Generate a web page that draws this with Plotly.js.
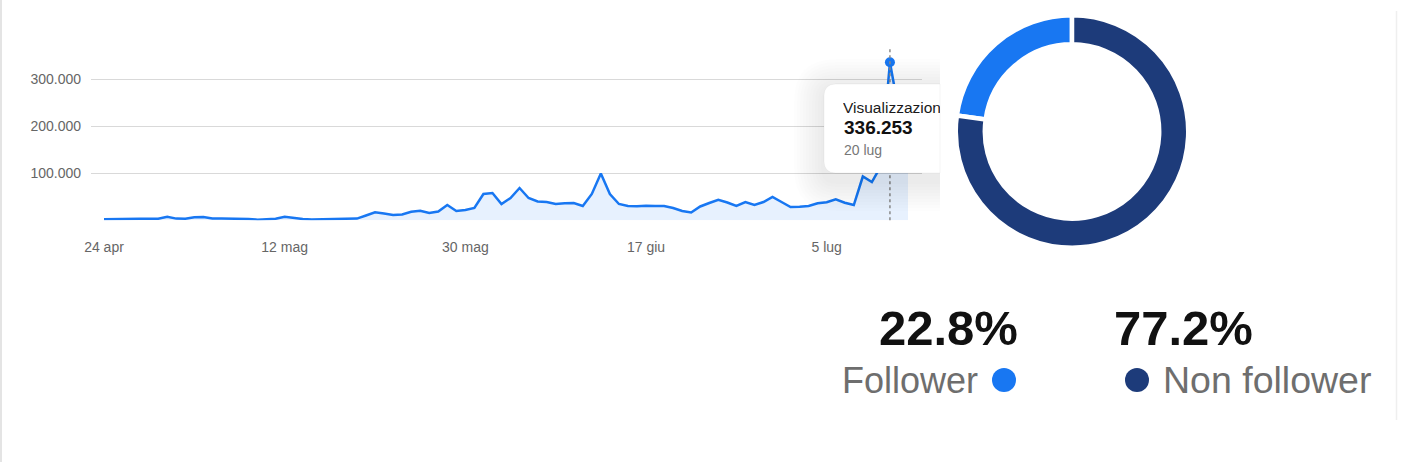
<!DOCTYPE html>
<html>
<head>
<meta charset="utf-8">
<script src="https://cdn.plot.ly/plotly-3.0.1.min.js"></script>
<style>
  html, body { margin: 0; padding: 0; background: #ffffff; }
  #chart { width: 1418px; height: 462px; }
</style>
</head>
<body>
<div id="chart"></div>
<script>
// ---- data ----
const views = [2100, 2000, 2300, 2700, 3200, 3400, 3100, 7600, 3600, 3300,
  6600, 7000, 4000, 3600, 3400, 3500, 3000, 1400, 2700, 3300,
  7700, 4500, 2800, 1500, 2100, 2400, 3400, 3000, 3600, 10200,
  17000, 14300, 11300, 12300, 18300, 20200, 15500, 18700, 32500, 19800,
  21900, 26200, 56000, 58100, 34700, 47400, 68700, 47400, 40000, 38900,
  34700, 36200, 36800, 30400, 56000, 99800, 56000, 34700, 30400, 29800,
  31000, 30400, 30400, 26200, 19800, 16600, 29400, 36800, 43600, 37900,
  30400, 38900, 32500, 38900, 49600, 38900, 28300, 29000, 30400, 36200,
  38300, 44700, 37400, 32500, 93200, 81500, 115500, 336253, 230000, 140000];
const dayIndex = views.map((v, i) => i);
const xTickVals = [0, 20, 40, 60, 80];
const xTickText = ['24 apr', '12 mag', '30 mag', '17 giu', '5 lug'];
const yTickVals = [100000, 200000, 300000];
const tooltipTitle = 'Visualizzazioni';
const tooltipDate = '20 lug';
const audienceLabels = ['Follower', 'Non follower'];
const audienceShare = [22.8, 77.2];
const audienceColors = ['#1877F2', '#1D3B7A'];

// ---- helpers (pixel -> paper) ----
const W = 1418, H = 462;
const px = x => x / W;
const py = y => 1 - y / H;

const peakIdx = views.indexOf(Math.max(...views));
const peakVal = views[peakIdx];
const fmt = v => v.toString().replace(/\B(?=(\d{3})+(?!\d))/g, '.');
const shareTotal = audienceShare.reduce((a, b) => a + b, 0);

// plot area (pixels)
const plotL = 91, plotR = 922, plotT = 46, plotB = 220.3;

const traces = [
  {
    type: 'scatter', mode: 'lines', x: dayIndex, y: views,
    line: { color: '#1877F2', width: 2.5, shape: 'linear' },
    fill: 'tozeroy', fillcolor: 'rgba(24,119,242,0.10)',
    hoverinfo: 'skip', showlegend: false, xaxis: 'x', yaxis: 'y'
  },
  {
    type: 'scatter', mode: 'markers', x: [peakIdx], y: [peakVal],
    marker: { color: '#1877F2', size: 10 },
    hoverinfo: 'skip', showlegend: false, xaxis: 'x', yaxis: 'y'
  },
  {
    type: 'pie', labels: audienceLabels, values: audienceShare,
    marker: { colors: audienceColors, line: { color: '#ffffff', width: 4.5 } },
    hole: 0.75, sort: false, direction: 'clockwise',
    rotation: -360 * audienceShare[0] / shareTotal,
    textinfo: 'none', hoverinfo: 'skip', showlegend: false,
    domain: { x: [px(955.75), px(1188.25)], y: [py(247.75), py(15.25)] }
  }
];

// tooltip rounded box path (paper coords)
function boxPath(L, T, R, B, r) {
  const P = (x, y) => px(x) + ',' + py(y);
  return 'M' + P(L + r, T) + ' L' + P(R, T) + ' L' + P(R, B) + ' L' + P(L + r, B) +
    ' Q' + P(L, B) + ' ' + P(L, B - r) + ' L' + P(L, T + r) +
    ' Q' + P(L, T) + ' ' + P(L + r, T) + ' Z';
}

const shapes = [];
// left border of screenshot
shapes.push({ type: 'line', xref: 'paper', yref: 'paper', x0: px(1), x1: px(1), y0: 0, y1: 1,
  line: { color: '#e4e4e4', width: 2 }, layer: 'above' });
// right panel border
shapes.push({ type: 'line', xref: 'paper', yref: 'paper', x0: px(1396.5), x1: px(1396.5), y0: py(420), y1: py(11),
  line: { color: '#efefef', width: 1.5 }, layer: 'above' });
// dotted hover line
shapes.push({ type: 'line', xref: 'x', yref: 'paper', x0: peakIdx, x1: peakIdx, y0: py(plotB), y1: py(47),
  line: { color: '#8a8a8a', width: 1.5, dash: 'dot' }, layer: 'above' });
// tooltip shadow
for (let k = 1; k <= 10; k++) {
  const e = k * 3;
  shapes.push({ type: 'path', xref: 'paper', yref: 'paper',
    path: boxPath(824 - e, 84 - e + 5, 940, 173 + e + 8, 12 + e),
    fillcolor: 'rgba(0,0,0,0.009)', line: { width: 0 }, layer: 'above' });
}
// tooltip box
shapes.push({ type: 'path', xref: 'paper', yref: 'paper',
  path: boxPath(824, 84, 940, 173, 12),
  fillcolor: '#ffffff', line: { color: 'rgba(0,0,0,0.04)', width: 1 }, layer: 'above' });
// legend dots
shapes.push({ type: 'circle', xref: 'paper', yref: 'paper',
  x0: px(992), x1: px(1016), y0: py(392), y1: py(368),
  fillcolor: audienceColors[0], line: { width: 0 } });
shapes.push({ type: 'circle', xref: 'paper', yref: 'paper',
  x0: px(1125), x1: px(1149), y0: py(392), y1: py(368),
  fillcolor: audienceColors[1], line: { width: 0 } });

const sysFont = '"Liberation Sans", Arial, Helvetica, sans-serif';
const annotations = [
  { xref: 'paper', yref: 'paper', x: px(842), y: py(107), xanchor: 'left', yanchor: 'middle',
    text: tooltipTitle, showarrow: false, width: 97, align: 'left', borderpad: 0,
    font: { family: sysFont, size: 15.5, color: '#1a1a1a' } },
  { xref: 'paper', yref: 'paper', x: px(842), y: py(128), xanchor: 'left', yanchor: 'middle',
    text: '<b>' + fmt(peakVal) + '</b>', showarrow: false, align: 'left',
    font: { family: sysFont, size: 19, color: '#111111' } },
  { xref: 'paper', yref: 'paper', x: px(842), y: py(150), xanchor: 'left', yanchor: 'middle',
    text: tooltipDate, showarrow: false, align: 'left',
    font: { family: sysFont, size: 14, color: '#777777' } },
  { xref: 'paper', yref: 'paper', x: px(949), y: py(328), xanchor: 'center', yanchor: 'middle',
    text: '<b>' + audienceShare[0].toFixed(1) + '%</b>', showarrow: false,
    font: { family: sysFont, size: 49, color: '#111111' } },
  { xref: 'paper', yref: 'paper', x: px(1183), y: py(328), xanchor: 'center', yanchor: 'middle',
    text: '<b>' + audienceShare[1].toFixed(1) + '%</b>', showarrow: false,
    font: { family: sysFont, size: 49, color: '#111111' } },
  { xref: 'paper', yref: 'paper', x: px(980), y: py(380), xanchor: 'right', yanchor: 'middle',
    text: audienceLabels[0], showarrow: false,
    font: { family: sysFont, size: 36, color: '#6e6e6e' } },
  { xref: 'paper', yref: 'paper', x: px(1161), y: py(380), xanchor: 'left', yanchor: 'middle',
    text: audienceLabels[1], showarrow: false,
    font: { family: sysFont, size: 37.5, color: '#6e6e6e' } }
];

const idxPerPx = (views.length - 1) / (908 - 104);
const layout = {
  width: W, height: H, autosize: false,
  margin: { l: 0, r: 0, t: 0, b: 0, pad: 0 },
  paper_bgcolor: '#ffffff', plot_bgcolor: 'rgba(0,0,0,0)',
  separators: ',.',
  hovermode: false,
  showlegend: false,
  font: { family: sysFont, color: '#666666' },
  xaxis: {
    domain: [px(plotL), px(plotR)],
    range: [(plotL - 104) * idxPerPx, (plotR - 104) * idxPerPx],
    tickmode: 'array', tickvals: xTickVals, ticktext: xTickText,
    showgrid: false, zeroline: false, showline: false, ticks: '',
    ticklabelstandoff: 17,
    tickfont: { family: sysFont, size: 14, color: '#666666' },
    fixedrange: true
  },
  yaxis: {
    domain: [py(plotB), py(plotT)],
    range: [0, (plotB - plotT) / 0.00047],
    tickmode: 'array', tickvals: yTickVals, tickformat: ',d',
    showgrid: true, gridcolor: '#d9d9d9', gridwidth: 1,
    zeroline: false, showline: false, ticks: '',
    ticklabelstandoff: 9,
    tickfont: { family: sysFont, size: 14, color: '#666666' },
    fixedrange: true
  },
  shapes: shapes,
  annotations: annotations
};

Plotly.newPlot('chart', traces, layout, { displayModeBar: false, staticPlot: true });
</script>
</body>
</html>
